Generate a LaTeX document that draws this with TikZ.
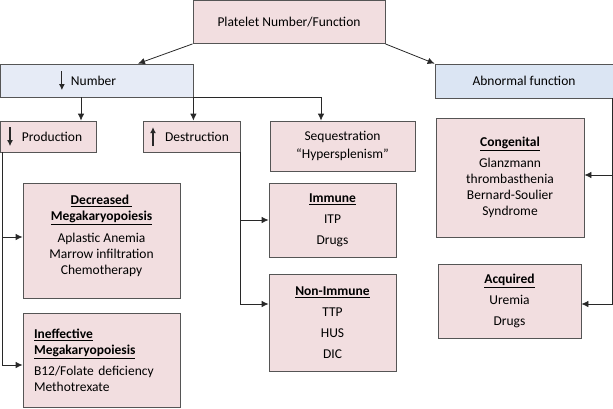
\documentclass[tikz,border=0pt]{standalone}
\usepackage{fontspec}
\setmainfont{Carlito}
\usetikzlibrary{arrows.meta,positioning}
\definecolor{boxpink}{RGB}{242,222,224}
\definecolor{boxblue}{RGB}{219,229,243}
\definecolor{boxlav}{RGB}{230,235,246}
\definecolor{edgegray}{RGB}{85,85,85}
\definecolor{linegray}{RGB}{40,40,40}
\newcommand{\dnarr}{\smash{\tikz[baseline=0pt]\draw[-{Latex[length=6pt,width=6pt]},line width=1.2pt,draw=linegray,fill=linegray] (0pt,14pt)--(0pt,-5pt);}}
\newcommand{\uparr}{\smash{\tikz[baseline=0pt]\draw[-{Latex[length=6pt,width=6pt]},line width=1.2pt,draw=linegray,fill=linegray] (0pt,-5pt)--(0pt,14pt);}}

\begin{document}
\begin{tikzpicture}[x=1pt,y=-1pt,>={Latex[length=7pt,width=6.5pt]},
  box/.style={draw=edgegray,fill=boxpink,line width=0.8pt,inner sep=0pt,
              font=\fontsize{13.5}{16}\selectfont,align=center},
  leftbox/.style={box,align=left,inner xsep=7pt},
  link/.style={->,draw=linegray,line width=0.8pt}]
\useasboundingbox (0,0) rectangle (613,408);

  \node[box,minimum width=192,minimum height=43] (top) at (289,22) {Platelet Number/Function};
  \node[box,fill=boxlav,minimum width=193,minimum height=33] (num) at (96.5,80.5)
       {\dnarr\ \ Number\hspace{18pt}};
  \node[box,fill=boxblue,minimum width=178,minimum height=34] (abn) at (524,81) {Abnormal function};

  \node[leftbox,text width=82,minimum height=31] (prod) at (48,136.5) {\dnarr\ \ Production};
  \node[leftbox,text width=83,minimum height=31] (dest) at (191.5,136.5) {\uparr\ \ Destruction};
  \node[box,minimum width=145,minimum height=50] (seq) at (342.5,146)
       {Sequestration\\[2pt]“Hypersplenism”};

  \node[box,minimum width=157,minimum height=115] (decr) at (101.5,240.5)
       {\underline{\textbf{Decreased }}\\\underline{\textbf{Megakaryopoiesis}}\\[6pt]
        Aplastic Anemia\\Marrow infiltration\\Chemotherapy\\[-4pt]};
  \node[leftbox,inner xsep=11pt,text width=135,minimum height=94] (ineff) at (101.5,360)
       {\underline{\textbf{Ineffective}}\\\underline{\textbf{Megakaryopoiesis}}\\[5pt]
        B12/Folate deficiency\\Methotrexate};

  \node[box,minimum width=127,minimum height=74] (imm) at (332.5,220)
       {\underline{\textbf{Immune}}\\[5pt]ITP\\[5pt]Drugs};
  \node[box,minimum width=127,minimum height=97] (nonimm) at (332.5,322.5)
       {\underline{\textbf{Non-Immune}}\\[5pt]TTP\\[5pt]HUS\\[5pt]DIC};

  \node[box,minimum width=148,minimum height=119] (cong) at (510,177.5)
       {\underline{\textbf{Congenital}}\\[5.5pt]Glanzmann\\thrombasthenia\\Bernard-Soulier\\Syndrome};
  \node[box,minimum width=143,minimum height=74] (acq) at (509.5,301)
       {\underline{\textbf{Acquired}}\\[5pt]Uremia\\[5pt]Drugs};

\coordinate (numin) at ([xshift=41.5pt]num.north);
\coordinate (prodin) at ([xshift=33pt]prod.north);
\coordinate (seqin) at ([xshift=-21.5pt]seq.north);
\coordinate (prodout) at ([xshift=3pt]prod.south west);
\coordinate (abnout) at ([xshift=-1pt]abn.south east);
\path
      (top.south west)  edge [link]  (numin)
      (top.south east)  edge [link]  (abn.north west)
      (prodin |- num.south) edge [link] (prodin)
      (num.south east)  edge [link]  (num.south east |- dest.north);
\draw[link] (num.south east) -| (seqin);
\draw[link] (prodout) |- ([yshift=3.5pt]decr.west);
\draw[link] (prodout) |- ([yshift=-5pt]ineff.west);
\draw[link] (dest.south east) |- (imm.west);
\draw[link] (dest.south east) |- ([yshift=18.5pt]nonimm.west);
\draw[link] (abnout) |- ([yshift=2.5pt]cong.east);
\draw[link] (abnout) |- ([yshift=-3pt]acq.east);
\end{tikzpicture}
\end{document}
